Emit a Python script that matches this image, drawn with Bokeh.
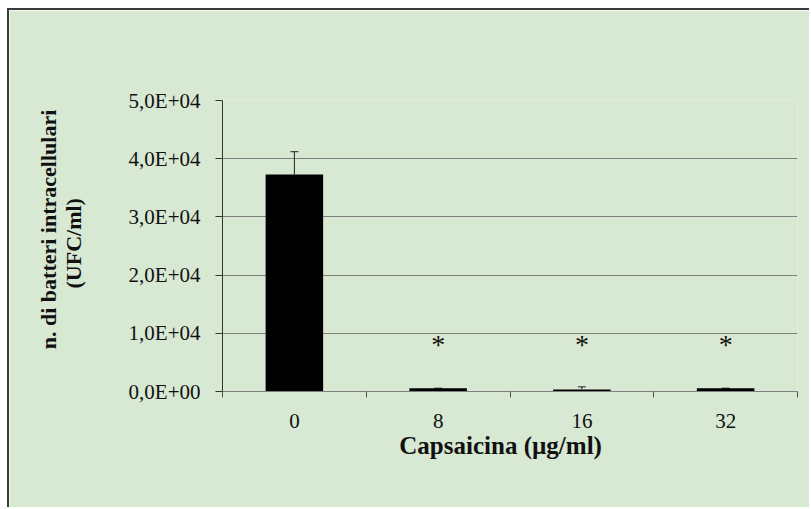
from bokeh.plotting import figure
from bokeh.models import ColumnDataSource, FixedTicker, Whisker, TeeHead, Range1d
from bokeh.core.properties import value
from bokeh.embed import file_html
from bokeh.resources import INLINE

# ---- data ----
categories = ["0", "8", "16", "32"]
counts = [37300, 570, 350, 570]          # UFC/ml
errors = [3900, 0, 450, 0]               # upper error
signif = ["", "*", "*", "*"]
signif_level = 8100
y_ticks = [0, 10000, 20000, 30000, 40000, 50000]
y_tick_labels = ["0,0E+00", "1,0E+04", "2,0E+04", "3,0E+04", "4,0E+04", "5,0E+04"]

BG = "#D7E8D3"
FONT = "Liberation Serif"
NB = "\u00a0"

xs = [i + 0.5 for i in range(len(categories))]
bounds = [i for i in range(len(categories) + 1)]

src = ColumnDataSource(dict(
    x=xs, top=counts,
    upper=[c + e for c, e in zip(counts, errors)],
))

p = figure(width=802, height=499, output_backend="svg", toolbar_location=None,
           x_range=Range1d(0, len(categories)), y_range=Range1d(0, 50000),
           background_fill_color=BG, border_fill_color=BG,
           min_border_left=213, min_border_right=14,
           min_border_top=90, min_border_bottom=118)
p.outline_line_color = None
p.styles = {"margin-left": "7px", "margin-top": "8px",
            "border-top": "2px solid #3a3a3a", "border-left": "2px solid #3a3a3a"}

p.vbar(x="x", top="top", width=0.4, source=src, fill_color="black", line_color=None)
p.add_layout(Whisker(base="x", upper="upper", lower="top", source=src,
                     line_color="#222222", line_width=1,
                     upper_head=TeeHead(size=8, line_color="#222222", line_width=1),
                     lower_head=None))

sx = [x for x, s in zip(xs, signif) if s]
st = [s for s in signif if s]
p.text(x=sx, y=[signif_level] * len(sx), text=st, text_font=value(FONT),
       text_font_size="28px", text_align="center", text_baseline="middle",
       text_color="#111111")

# grid
p.xgrid.grid_line_color = None
p.ygrid.grid_line_color = "#7f7f7f"
p.ygrid.grid_line_width = 1

# x axis
xa = p.xaxis[0]
xa.ticker = FixedTicker(ticks=xs, minor_ticks=bounds)
xa.major_label_overrides = {x: c for x, c in zip(xs, categories)}
xa.major_tick_out = 0
xa.major_tick_in = 0
xa.minor_tick_out = 6
xa.minor_tick_in = 0
xa.minor_tick_line_color = "#555555"
xa.axis_line_color = "#7f7f7f"
xa.major_label_standoff = 16
xa.major_label_text_font = FONT
xa.major_label_text_font_size = "21px"
xa.major_label_text_color = "#111111"
xa.axis_label = "Capsaicina (µg/ml)" + NB * 3
xa.axis_label_text_font = FONT
xa.axis_label_text_font_style = "bold"
xa.axis_label_text_font_size = "25px"
xa.axis_label_text_color = "#111111"
xa.axis_label_standoff = 1

# y axis
ya = p.yaxis[0]
ya.ticker = FixedTicker(ticks=y_ticks, minor_ticks=[])
ya.major_label_overrides = {t: l for t, l in zip(y_ticks, y_tick_labels)}
ya.major_tick_out = 7
ya.major_tick_in = 0
ya.major_tick_line_color = "#333333"
ya.axis_line_color = "#333333"
ya.major_label_standoff = 15
ya.major_label_text_font = FONT
ya.major_label_text_font_size = "21px"
ya.major_label_text_color = "#111111"
ya.axis_label = NB * 6 + "n. di batteri intracellulari\n" + NB + "(UFC/ml)"
ya.axis_label_text_font = FONT
ya.axis_label_text_font_style = "bold"
ya.axis_label_text_font_size = "22px"
ya.axis_label_text_line_height = 1.0
ya.axis_label_text_color = "#111111"
ya.axis_label_standoff = 40

open("out.html", "w").write(file_html(p, INLINE))
